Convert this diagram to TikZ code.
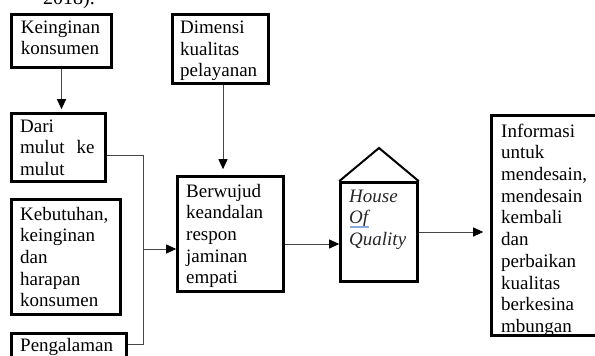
\documentclass[tikz,border=0pt]{standalone}
\usepackage{fontspec}
\setmainfont{Liberation Serif}
\usetikzlibrary{arrows.meta}
\definecolor{linegray}{RGB}{70,70,70}
\definecolor{spellblue}{RGB}{140,170,225}
\begin{document}
\begin{tikzpicture}[x=1pt,y=-1pt,
  box/.style={draw, line width=2.6pt, inner sep=0pt},
  txt/.style={anchor=north west, inner sep=0pt, align=left,
              font=\fontsize{19}{21.7}\selectfont},
  link/.style={draw=linegray, line width=0.9pt},
  arr/.style={link, -{Triangle[length=10pt,width=9pt,color=black]}},
  roof/.style={draw, line width=2pt, line join=miter}]
\useasboundingbox (0,0) rectangle (595,356);
\clip (0,0) rectangle (595,356);

% citation line running in from above
\node[anchor=base west, inner sep=0pt, font=\fontsize{20}{24}\selectfont] (year) at (43,5) {2018).};

% frames
\node[box, minimum width=100pt, minimum height=53.3pt] (kein) at (61.5,40.85) {};
\node[box, minimum width=96pt,  minimum height=69pt]   (dimensi) at (220.5,49) {};
\node[box, minimum width=94pt,  minimum height=68pt]   (dari) at (58.5,147.5) {};
\node[box, minimum width=109pt, minimum height=115pt]  (kebutuhan) at (66,257) {};
\node[box, minimum width=115pt, minimum height=44.5pt] (pengalaman) at (69,355.75) {};
\node[box, minimum width=106pt, minimum height=115pt]  (berwujud) at (230.5,234) {};
\node[box, minimum width=77pt,  minimum height=99pt]   (house) at (379,232) {};
\node[box, minimum width=116.5pt, minimum height=220pt] (info) at (549.75,225.5) {};

% roof of the house of quality
\coordinate (apex) at (379,148);
\draw[roof] (house.north west) -- (apex) -- (house.north east);

% texts
\node[txt] (kein-t) at (20.7,17.8) {\strut Keinginan\\konsumen};
\node[txt] (dimensi-t) at (180,18.1) {\strut Dimensi\\kualitas\\pelayanan};
\node[txt] (dari-t) at (20,116.8) {\strut Dari\\mulut\hspace*{12pt}ke\\mulut};
\node[txt] (kebutuhan-t) at (20,204.8) {\strut Kebutuhan,\\keinginan\\dan\\harapan\\konsumen};
\node[txt] (pengalaman-t) at (20,335.8) {\strut Pengalaman};
\node[txt] (berwujud-t) at (186,181.8) {\strut Berwujud\\keandalan\\respon\\jaminan\\empati};
\node[txt, text=black!85] (house-t) at (349,186.8) {\strut\itshape House\\\itshape Of\\\itshape Quality};
\node[txt] (info-t) at (501,121.8) {\strut Informasi\\untuk\\mendesain,\\mendesain\\kembali\\dan\\perbaikan\\kualitas\\berkesina\\mbungan};

% proofing mark under "Of"
\draw[spellblue, line width=2.4pt] (349.5,227) -- (369,227);

% connectors
\coordinate (dimx) at (223,0);
\coordinate (brtop) at (143,155);
\coordinate (brmid) at (143,249);
\coordinate (brbot) at (143,344);

\draw[arr, shorten >=3pt] (kein.south) -- (kein.south |- dari.north);
\draw[arr, shorten >=6pt] (dimensi.south -| dimx) -- (berwujud.north -| dimx);
\draw[link] (dari.east |- brtop) -- (brtop) -- (brbot) -- (pengalaman.east |- brbot);
\draw[arr] (brmid) -- (brmid -| berwujud.west);
\draw[arr] ([yshift=-10pt]berwujud.east) -- ([yshift=-10pt]berwujud.east -| house.west);
\draw[arr, shorten >=7pt] (house.east) -- (house.east -| info.west);
\end{tikzpicture}
\end{document}
